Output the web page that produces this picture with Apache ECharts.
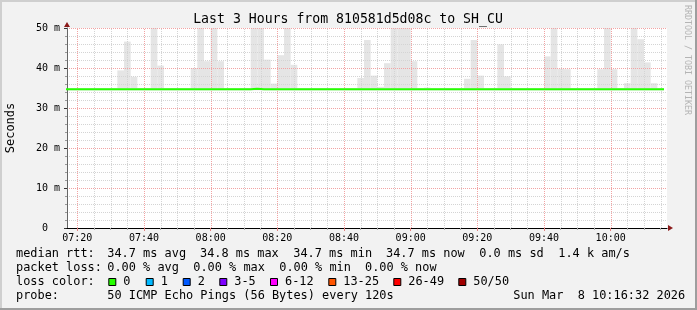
<!DOCTYPE html>
<html><head><meta charset="utf-8">
<script src="https://cdn.jsdelivr.net/npm/echarts@6/dist/echarts.min.js"></script>
<style>html,body{margin:0;padding:0;background:#f2f2f2}#c{width:697px;height:310px}</style>
</head><body><div id="c"></div>
<script>
// ---------- data ----------
const chartTitle = 'Last 3 Hours from 810581d5d08c to SH_CU';
const yTitle = 'Seconds';
const sideNote = 'RRDTOOL / TOBI OETIKER';
const xStartMin = 436.9;          // 07:16:54 (left edge of plot)
const xEndMin = 616.9;            // right edge of plot
const firstSampleEnd = 438;       // 07:18
const sampleStepMin = 2;          // 120 s
const xTickLabels = ['07:20','07:40','08:00','08:20','08:40','09:00','09:20','09:40','10:00'];
const yMax = 50;
// top of the smoke (max ping per 120 s sample, ms)
const smokeTop = [
  35.0,35.0,35.0,35.0,35.0,35.0,35.0,35.0,
  39.4,46.6,37.8,35.0,35.0,50.0,40.6,35.0,35.0,35.0,35.0,
  40.0,50.0,41.7,50.0,41.7,35.0,35.0,35.0,35.0,
  50.0,50.0,42.1,36.1,43.2,50.0,40.8,
  35.0,35.0,35.0,35.0,35.0,35.0,35.0,35.0,35.0,
  37.5,47.0,38.1,35.3,41.2,50.0,50.0,50.0,41.7,
  35.0,35.1,35.0,35.0,35.0,35.0,35.0,
  37.3,47.0,38.1,35.0,35.0,45.9,37.9,
  35.0,35.0,35.0,35.0,35.0,
  42.9,50.0,39.8,39.7,
  35.0,35.0,35.0,35.0,
  39.7,50.0,39.7,35.0,36.2,50.0,47.2,41.4,36.2,35.0
];
const smokeFloor = 34.4;
// median rtt per sample (ms)
const medianRtt = [
  34.7,34.7,34.7,34.7,34.7,34.7,34.7,34.7,34.7,34.7,
  34.7,34.7,34.7,34.7,34.7,34.7,34.7,34.7,34.7,34.7,
  34.7,34.7,34.7,34.7,34.7,34.7,34.7,34.7,34.8,34.7,
  34.7,34.7,34.7,34.7,34.7,34.7,34.7,34.7,34.7,34.7,
  34.7,34.7,34.7,34.7,34.7,34.7,34.7,34.7,34.7,34.7,
  34.7,34.7,34.7,34.7,34.7,34.7,34.7,34.7,34.7,34.7,
  34.7,34.7,34.7,34.7,34.7,34.7,34.7,34.7,34.7,34.7,
  34.7,34.7,34.7,34.7,34.7,34.7,34.7,34.7,34.7,34.7,
  34.7,34.7,34.7,34.7,34.7,34.7,34.7,34.7,34.7,34.7
];
const rttStats = ['median rtt:', '34.7 ms avg', '34.8 ms max', '34.7 ms min', '34.7 ms now', '0.0 ms sd', '1.4 k am/s'];
const lossStats = ['packet loss:', '0.00 % avg', '0.00 % max', '0.00 % min', '0.00 % now'];
const lossTitle = 'loss color:';
const lossLabels = ['0','1','2','3-5','6-12','13-25','26-49','50/50'];
const lossColors = ['#26ff00','#00b8ff','#0059ff','#7e00ff','#ff00ff','#ff5500','#ff0000','#a10000'];
const probeText = ['probe:', '50 ICMP Echo Pings (56 Bytes) every 120s', 'Sun Mar  8 10:16:32 2026'];

// ---------- layout ----------
const MONO = '"DejaVu Sans Mono", monospace';
const rttX = [16, 107.3, 200, 293.3, 386, 479.3, 558.3];
const lossX = [16, 107.3, 193.3, 279.3, 365];
const boxX = [108.3, 145.7, 182.7, 219.3, 270, 328.3, 393.3, 458.3];
const probeX = [16, 107.3, 513.3];
const lineY = [254, 268, 282, 296];
const legendFont = '11.9px ' + MONO;

const toMin = s => { const p = s.split(':'); return (+p[0]) * 60 + (+p[1]); };
const fmt = m => { const h = Math.floor(m / 60), mm = Math.round(m - h * 60); return String(h).padStart(2,'0') + ':' + String(mm).padStart(2,'0'); };
const majorTimes = xTickLabels.map(toMin);
const gridTimes = [];
for (let t = Math.ceil(xStartMin / 5) * 5; t <= xEndMin; t += 5) gridTimes.push(t);
const minorTimes = gridTimes.filter(t => majorTimes.indexOf(t) < 0);

const smokeData = smokeTop.map((v, i) => {
  const tEnd = firstSampleEnd + sampleStepMin * i;
  return [tEnd - sampleStepMin, tEnd, smokeFloor, v];
});
const medianLine = [];
medianRtt.forEach((v, i) => {
  const tEnd = firstSampleEnd + sampleStepMin * i;
  medianLine.push([tEnd - sampleStepMin, v], [tEnd, v]);
});

const chart = echarts.init(document.getElementById('c'), null, {renderer: 'canvas'});

const graphics = [];
graphics.push({type:'text', x:348, y:19.5, style:{text:chartTitle, font:'13.2px ' + MONO, fill:'#000', align:'center', verticalAlign:'middle'}});
graphics.push({type:'text', x:10.5, y:128, rotation:Math.PI/2, style:{text:yTitle, font:'12px ' + MONO, fill:'#000', align:'center', verticalAlign:'middle'}});
graphics.push({type:'text', x:687, y:60, rotation:-Math.PI/2, style:{text:sideNote, font:'8.3px ' + MONO, fill:'#b4b4b4', align:'center', verticalAlign:'middle'}});
rttStats.forEach((s, i) => graphics.push({type:'text', x:rttX[i], y:lineY[0], style:{text:s, font:legendFont, fill:'#000', align:'left', verticalAlign:'middle'}}));
lossStats.forEach((s, i) => graphics.push({type:'text', x:lossX[i], y:lineY[1], style:{text:s, font:legendFont, fill:'#000', align:'left', verticalAlign:'middle'}}));
graphics.push({type:'text', x:16, y:lineY[2], style:{text:lossTitle, font:legendFont, fill:'#000', align:'left', verticalAlign:'middle'}});
lossLabels.forEach((s, i) => {
  graphics.push({type:'rect', shape:{x:boxX[i] + 0.5, y:lineY[2] - 3.5, width:7, height:7}, style:{fill:lossColors[i], stroke:'#000', lineWidth:1}});
  graphics.push({type:'text', x:boxX[i] + 15, y:lineY[2], style:{text:s, font:legendFont, fill:'#000', align:'left', verticalAlign:'middle'}});
});
probeText.forEach((s, i) => graphics.push({type:'text', x:probeX[i], y:lineY[3], style:{text:s, font:legendFont, fill:'#000', align:'left', verticalAlign:'middle'}}));
// frame shading
graphics.push({type:'rect', shape:{x:0, y:0, width:697, height:2}, style:{fill:'#cfcfcf'}});
graphics.push({type:'rect', shape:{x:0, y:0, width:2, height:310}, style:{fill:'#cfcfcf'}});
graphics.push({type:'rect', shape:{x:695, y:0, width:2, height:310}, style:{fill:'#9e9e9e'}});
graphics.push({type:'rect', shape:{x:0, y:308, width:697, height:2}, style:{fill:'#9e9e9e'}});

const option = {
  animation: false,
  backgroundColor: '#f2f2f2',
  grid: {left: 67, top: 28, width: 600, height: 200, show: true, backgroundColor: '#ffffff', borderWidth: 0},
  xAxis: [{
    type: 'value', min: xStartMin, max: xEndMin, z: 4,
    axisLine: {show: true, onZero: false, lineStyle: {color: '#000', width: 1}},
    axisTick: {show: true, customValues: majorTimes, length: 3, lineStyle: {color: '#e08080'}},
    axisLabel: {show: true, customValues: majorTimes, formatter: v => fmt(v), margin: 5,
      fontFamily: 'DejaVu Sans Mono', fontSize: 10, color: '#000'},
    splitLine: {show: false}
  }, {
    type: 'value', min: xStartMin, max: xEndMin, position: 'bottom', z: 4,
    axisLine: {show: false},
    axisTick: {show: true, customValues: minorTimes, length: 2, lineStyle: {color: '#aaaaaa'}},
    axisLabel: {show: false},
    splitLine: {show: false}
  }],
  yAxis: {
    type: 'value', min: 0, max: yMax, interval: 10, z: 3,
    axisLine: {show: true, lineStyle: {color: '#666', width: 1}},
    axisTick: {show: true, length: 3, lineStyle: {color: '#333'}},
    minorTick: {show: true, splitNumber: 5, length: 2, lineStyle: {color: '#999'}},
    axisLabel: {formatter: v => v === 0 ? '0  ' : v + ' m', margin: 7, fontFamily: 'DejaVu Sans Mono', fontSize: 10, color: '#000'},
    splitLine: {show: true, lineStyle: {color: '#f2a3a3', type: [1, 1], width: 1}},
    minorSplitLine: {show: true, lineStyle: {color: '#d4d4d4', type: [1, 1], width: 1}}
  },
  series: [{
    type: 'custom', name: 'smoke', z: 1, silent: true,
    data: smokeData,
    encode: {x: [0, 1], y: [2, 3]},
    renderItem: function (params, api) {
      const a = api.coord([api.value(0), api.value(3)]);
      const b = api.coord([api.value(1), api.value(2)]);
      const cs = params.coordSys;
      const shape = echarts.graphic.clipRectByRect(
        {x: a[0], y: a[1], width: b[0] - a[0], height: b[1] - a[1]},
        {x: cs.x, y: cs.y, width: cs.width, height: cs.height});
      return shape && {type: 'rect', shape: shape, style: {fill: '#e5e5e5'}};
    }
  }, {
    type: 'custom', name: 'vgrid', z: 3, silent: true,
    data: gridTimes.map(t => [t, majorTimes.indexOf(t) >= 0 ? 1 : 0]),
    encode: {x: 0},
    renderItem: function (params, api) {
      const t = api.value(0);
      const p0 = api.coord([t, 0]), p1 = api.coord([t, yMax]);
      const x = Math.round(p0[0]) + 0.5;
      return {type: 'line', shape: {x1: x, y1: p0[1], x2: x, y2: p1[1]},
        style: {stroke: api.value(1) ? '#f2a3a3' : '#d4d4d4', lineWidth: 1, lineDash: [1, 1]}};
    }
  }, {
    type: 'line', name: 'median rtt', z: 5, silent: true,
    data: medianLine, showSymbol: false, symbol: 'none', clip: true,
    lineStyle: {color: '#26ff00', width: 2}
  }],
  graphic: graphics
};
chart.setOption(option);

// axis arrows (dark red) at the end of each axis
const pEnd = chart.convertToPixel({gridIndex: 0}, [xEndMin, 0]);
const pTop = chart.convertToPixel({gridIndex: 0}, [xStartMin, yMax]);
chart.setOption({graphic: graphics.concat([
  {type: 'polygon', shape: {points: [[pEnd[0] + 1, pEnd[1] - 3], [pEnd[0] + 6, pEnd[1]], [pEnd[0] + 1, pEnd[1] + 3]]}, style: {fill: '#8b1a1a'}},
  {type: 'polygon', shape: {points: [[pTop[0] - 3, pTop[1] - 1], [pTop[0], pTop[1] - 6], [pTop[0] + 3, pTop[1] - 1]]}, style: {fill: '#8b1a1a'}}
])});
</script>
</body></html>
